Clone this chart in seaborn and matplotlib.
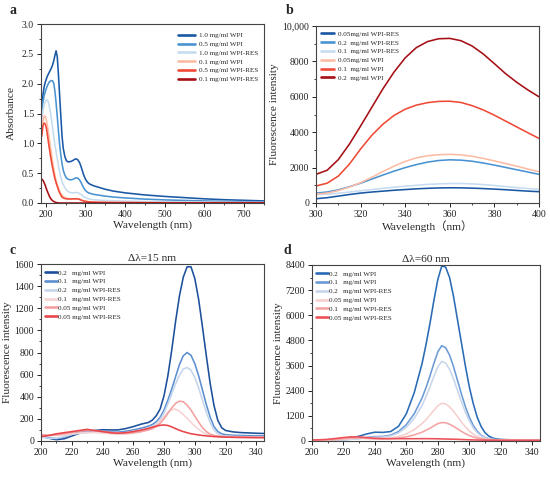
import numpy as np
import pandas as pd
import matplotlib
matplotlib.use("Agg")
import matplotlib.pyplot as plt
from matplotlib.ticker import MultipleLocator, FixedLocator, FixedFormatter, FormatStrFormatter
import seaborn as sns

# ---------------- Panel a : UV absorbance ----------------
wl_a = [190, 193, 196, 199, 202, 205, 208, 211, 214, 217, 220, 223, 226, 229, 232, 235,
        238, 241, 244, 248, 252, 256, 260, 265, 270, 275, 280, 285, 290, 295, 300, 305,
        310, 320, 335, 350, 370, 400, 450, 500, 550, 600, 650, 700, 750]
a_wpi_10 = [1.62, 1.82, 1.95, 2.03, 2.09, 2.14, 2.18, 2.22, 2.26, 2.31, 2.38, 2.47, 2.55, 2.45,
            2.15, 1.80, 1.45, 1.12, 0.92, 0.78, 0.71, 0.69, 0.69, 0.70, 0.72, 0.74, 0.73, 0.68,
            0.59, 0.48, 0.40, 0.35, 0.32, 0.29, 0.26, 0.23, 0.20, 0.17, 0.135, 0.11, 0.09,
            0.07, 0.055, 0.045, 0.035]
a_wpi_05 = [1.55, 1.70, 1.80, 1.87, 1.93, 1.98, 2.02, 2.04, 2.05, 2.05, 2.01, 1.88, 1.68, 1.45,
            1.20, 0.98, 0.80, 0.66, 0.55, 0.47, 0.42, 0.40, 0.39, 0.39, 0.40, 0.42, 0.42, 0.39,
            0.33, 0.26, 0.21, 0.18, 0.165, 0.145, 0.13, 0.115, 0.10, 0.085, 0.065, 0.052,
            0.043, 0.035, 0.028, 0.023, 0.02]
a_res_10 = [1.40, 1.55, 1.65, 1.70, 1.73, 1.72, 1.65, 1.55, 1.42, 1.27, 1.12, 0.98, 0.86, 0.74,
            0.62, 0.52, 0.43, 0.36, 0.31, 0.26, 0.22, 0.19, 0.18, 0.17, 0.17, 0.175, 0.175,
            0.16, 0.14, 0.11, 0.09, 0.075, 0.065, 0.055, 0.048, 0.042, 0.037, 0.032, 0.025,
            0.02, 0.017, 0.014, 0.012, 0.01, 0.008]
a_wpi_01 = [1.20, 1.38, 1.46, 1.45, 1.38, 1.26, 1.12, 0.98, 0.84, 0.70, 0.58, 0.47, 0.38, 0.31,
            0.25, 0.20, 0.16, 0.13, 0.11, 0.09, 0.08, 0.075, 0.07, 0.07, 0.07, 0.072, 0.072,
            0.065, 0.05, 0.04, 0.03, 0.025, 0.02, 0.016, 0.013, 0.011, 0.01, 0.008, 0.006,
            0.005, 0.005, 0.005, 0.005, 0.005, 0.005]
a_res_05 = [1.12, 1.30, 1.34, 1.32, 1.24, 1.10, 0.96, 0.83, 0.71, 0.60, 0.50, 0.41, 0.34, 0.28,
            0.22, 0.17, 0.13, 0.10, 0.085, 0.075, 0.07, 0.068, 0.068, 0.068, 0.07, 0.07, 0.07,
            0.06, 0.045, 0.035, 0.028, 0.022, 0.018, 0.014, 0.011, 0.01, 0.008, 0.007, 0.005,
            0.004, 0.004, 0.004, 0.004, 0.004, 0.004]
a_res_01 = [0.40, 0.38, 0.34, 0.29, 0.23, 0.18, 0.13, 0.09, 0.06, 0.04, 0.025, 0.015, 0.008,
            0.004, 0.002, 0.001, 0.0, 0.0, 0.0, 0.0, 0.0, 0.0, 0.0, 0.0, 0.0, 0.0, 0.0, 0.0,
            0.0, 0.0, 0.0, 0.0, 0.0, 0.0, 0.0, 0.0, 0.0, 0.0, 0.0, 0.0, 0.0, 0.0, 0.0, 0.0, 0.0]
labels_a = ["1.0 mg/ml WPI", "0.5 mg/ml WPI", "1.0 mg/ml WPI-RES",
            "0.1 mg/ml WPI", "0.5 mg/ml WPI-RES", "0.1 mg/ml WPI-RES"]
colors_a = ["#1a58a6", "#4a93d2", "#c6dcf0", "#fcbca4", "#ee4a36", "#a50f15"]

# ---------------- Panel b : intrinsic fluorescence ----------------
wl_b = [300, 305, 310, 315, 320, 325, 330, 335, 340, 345, 350, 355, 360, 365, 370, 375,
        380, 385, 390, 395, 400]
b_res_005 = [240, 300, 390, 480, 560, 620, 670, 720, 760, 800, 830, 850, 860, 855, 840, 815,
             785, 750, 710, 670, 640]
b_res_02 = [560, 620, 740, 920, 1120, 1350, 1580, 1800, 2000, 2170, 2310, 2400, 2440, 2420,
            2360, 2260, 2140, 2010, 1880, 1750, 1620]
b_res_01 = [480, 500, 550, 620, 690, 760, 830, 890, 950, 1000, 1050, 1080, 1100, 1100, 1080,
            1040, 990, 930, 870, 820, 770]
b_wpi_005 = [500, 560, 700, 900, 1150, 1450, 1780, 2080, 2350, 2550, 2670, 2730, 2750, 2720,
             2640, 2520, 2380, 2230, 2080, 1920, 1770]
b_wpi_01 = [960, 1120, 1520, 2200, 3050, 3820, 4450, 4950, 5300, 5530, 5670, 5740, 5750, 5680,
            5500, 5260, 4960, 4630, 4300, 3970, 3650]
b_wpi_02 = [1620, 1850, 2450, 3330, 4350, 5400, 6450, 7400, 8200, 8780, 9120, 9280, 9300, 9170,
            8870, 8420, 7870, 7310, 6820, 6390, 6000]
labels_b = ["0.05mg/ml WPI-RES", "0.2  mg/ml WPI-RES", "0.1  mg/ml WPI-RES",
            "0.05mg/ml WPI", "0.1  mg/ml WPI", "0.2  mg/ml WPI"]
colors_b = ["#1a58a6", "#4a93d2", "#c6dcf0", "#fcbca4", "#ee4a36", "#a50f15"]

# ---------------- Panels c, d : synchronous fluorescence ----------------
wl_cd = [200, 205, 210, 215, 220, 225, 230, 235, 240, 245, 250, 255, 260, 265, 270, 272.5,
         275, 277.5, 280, 282.5, 285, 287.5, 290, 292.5, 295, 297.5, 300, 302.5, 305, 307.5,
         310, 312.5, 315, 317.5, 320, 325, 330, 335, 340, 345]
c_wpi_02 = [45, 25, 12, 20, 45, 70, 85, 95, 102, 100, 100, 112, 130, 152, 168, 190, 230, 290,
            410, 590, 820, 1080, 1310, 1480, 1575, 1575, 1470, 1280, 1030, 770, 520, 320, 185,
            120, 95, 82, 76, 73, 70, 68]
c_wpi_01 = [45, 30, 20, 35, 65, 80, 88, 90, 88, 82, 80, 88, 100, 115, 135, 150, 175, 215, 280,
            370, 470, 580, 690, 770, 800, 775, 700, 590, 460, 330, 215, 130, 85, 65, 57, 52, 50,
            48, 47, 46]
c_res_02 = [35, 25, 25, 40, 60, 70, 75, 78, 75, 70, 68, 75, 88, 100, 118, 130, 155, 195, 255,
            335, 425, 515, 595, 650, 665, 640, 575, 480, 370, 260, 165, 100, 65, 50, 45, 42, 40,
            38, 37, 36]
c_res_01 = [55, 50, 50, 55, 65, 72, 78, 78, 72, 65, 60, 62, 70, 82, 105, 120, 145, 180, 220,
            260, 285, 288, 270, 240, 205, 170, 135, 105, 80, 62, 50, 43, 40, 38, 36, 34, 33, 32,
            31, 30]
c_wpi_005 = [60, 50, 55, 65, 78, 88, 95, 92, 85, 78, 72, 70, 75, 85, 100, 112, 130, 160, 200,
             250, 300, 340, 360, 355, 325, 280, 225, 170, 120, 85, 62, 50, 45, 42, 40, 38, 37,
             36, 35, 35]
c_res_005 = [40, 50, 65, 75, 85, 95, 105, 95, 85, 75, 70, 75, 85, 98, 115, 125, 135, 142, 145,
             140, 128, 112, 97, 85, 75, 66, 60, 55, 50, 46, 43, 40, 38, 36, 35, 33, 32, 31, 30,
             30]
labels_c = ["0.2   mg/ml WPI", "0.1   mg/ml WPI", "0.2   mg/ml WPI-RES",
            "0.1   mg/ml WPI-RES", "0.05 mg/ml WPI", "0.05 mg/ml WPI-RES"]
colors_c = ["#1c4f9c", "#5b8fd0", "#c5d5ec", "#f5d3d3", "#f3a0a0", "#e8444a"]

d_wpi_02 = [50, 50, 55, 70, 100, 150, 230, 340, 420, 410, 450, 700, 1300, 2300, 3700, 4600,
            5600, 6700, 7700, 8350, 8300, 7800, 6900, 5800, 4700, 3600, 2600, 1800, 1150, 700,
            400, 230, 140, 95, 75, 60, 55, 50, 50, 50]
d_wpi_01 = [40, 40, 40, 45, 60, 90, 120, 170, 210, 220, 280, 450, 780, 1300, 2050, 2550, 3100,
            3700, 4250, 4550, 4450, 4100, 3550, 2900, 2250, 1650, 1150, 750, 470, 280, 170, 110,
            80, 65, 55, 50, 45, 45, 45, 45]
d_res_02 = [40, 40, 40, 45, 55, 80, 110, 150, 180, 190, 240, 380, 650, 1080, 1700, 2120, 2580,
            3080, 3540, 3800, 3720, 3420, 2960, 2420, 1880, 1380, 960, 630, 400, 240, 150, 100,
            75, 60, 52, 48, 45, 44, 43, 43]
d_wpi_005 = [40, 40, 45, 55, 80, 110, 130, 130, 120, 115, 140, 210, 340, 540, 830, 1020, 1240,
             1460, 1680, 1800, 1770, 1630, 1420, 1170, 910, 680, 480, 330, 220, 150, 105, 80,
             65, 55, 50, 45, 42, 40, 40, 40]
d_res_01 = [40, 45, 55, 75, 110, 140, 140, 120, 100, 95, 110, 140, 200, 290, 420, 510, 610,
            720, 830, 880, 870, 800, 700, 580, 460, 350, 260, 190, 140, 105, 80, 65, 55, 50, 45,
            42, 40, 38, 37, 36]
d_res_005 = [50, 60, 80, 120, 165, 200, 195, 160, 130, 115, 110, 110, 110, 110, 112, 112, 110,
             108, 105, 100, 95, 90, 85, 80, 72, 65, 58, 52, 47, 43, 40, 38, 36, 35, 34, 33, 32,
             31, 30, 30]
labels_d = ["0.2   mg/ml WPI", "0.1   mg/ml WPI", "0.2   mg/ml WPI-RES",
            "0.05 mg/ml WPI", "0.1   mg/ml WPI-RES", "0.05 mg/ml WPI-RES"]
colors_d = ["#2a6bb5", "#6b9bd6", "#c8d6ec", "#f6cfcf", "#f4a3a3", "#ec5058"]

# ---------------- styling ----------------
sns.set_theme(style="ticks")
plt.rcParams["font.family"] = ["Liberation Serif", "Noto Sans CJK SC", "DejaVu Sans"]
SPINE = "#444444"
LABEL_FS = 8.2
TICK_FS = 7
LEG_FS = 5.1


def long_df(x, series, labels):
    frames = []
    for s, lab in zip(series, labels):
        frames.append(pd.DataFrame({"x": x, "y": s, "series": lab}))
    return pd.concat(frames, ignore_index=True)


def draw(ax, x, series, labels, colors, lw=1.15):
    df = long_df(x, series, labels)
    sns.lineplot(data=df, x="x", y="y", hue="series", hue_order=labels,
                 palette=dict(zip(labels, colors)), ax=ax, linewidth=lw,
                 sort=False, estimator=None, legend=True)


def style(ax):
    for sp in ax.spines.values():
        sp.set_color(SPINE)
        sp.set_linewidth(0.8)
    ax.tick_params(which="major", direction="out", length=3, width=0.7, colors="#222222",
                   labelsize=TICK_FS, pad=2)
    ax.tick_params(which="minor", direction="out", length=1.6, width=0.6, colors="#222222")


fig = plt.figure(figsize=(5.5, 4.78), dpi=100)
W, H = 550, 478


def axes_px(l, t, r, b):
    return fig.add_axes([l / W, 1 - b / H, (r - l) / W, (b - t) / H])


ax_a = axes_px(41, 24, 264, 203)
ax_b = axes_px(316, 26, 539, 203)
ax_c = axes_px(41, 264, 264, 441)
ax_d = axes_px(312, 265, 540, 441)

# a
draw(ax_a, wl_a, [a_wpi_10, a_wpi_05, a_res_10, a_wpi_01, a_res_05, a_res_01], labels_a, colors_a)
ax_a.set_xlim(188, 750)
ax_a.set_ylim(0, 3.0)
ax_a.xaxis.set_major_locator(MultipleLocator(100))
ax_a.xaxis.set_minor_locator(MultipleLocator(50))
ax_a.yaxis.set_major_locator(MultipleLocator(0.5))
ax_a.yaxis.set_minor_locator(MultipleLocator(0.25))
ax_a.yaxis.set_major_formatter(FormatStrFormatter("%.1f"))
ax_a.set_xlabel("Wavelength (nm)", fontsize=LABEL_FS, labelpad=1)
ax_a.set_ylabel("Absorbance", fontsize=LABEL_FS, labelpad=4)
ax_a.legend(loc="upper right", frameon=False, fontsize=LEG_FS, handlelength=2.4,
            handletextpad=0.6, labelspacing=0.4, borderaxespad=0.4,
            bbox_to_anchor=(1.0, 0.985))

# b
draw(ax_b, wl_b, [b_res_005, b_res_02, b_res_01, b_wpi_005, b_wpi_01, b_wpi_02], labels_b, colors_b)
ax_b.set_xlim(300, 400)
ax_b.set_ylim(0, 10000)
ax_b.xaxis.set_major_locator(MultipleLocator(20))
ax_b.xaxis.set_minor_locator(MultipleLocator(10))
ax_b.yaxis.set_major_locator(FixedLocator([0, 2000, 4000, 6000, 8000, 10000]))
ax_b.yaxis.set_major_formatter(FixedFormatter(["0", "2000", "4000", "6000", "8000", "10,000"]))
ax_b.yaxis.set_minor_locator(MultipleLocator(1000))
ax_b.set_xlabel("Wavelength（nm）", fontsize=LABEL_FS, labelpad=1,
                family=["Liberation Serif", "Noto Sans CJK SC"])
ax_b.set_ylabel("Fluorescence intensity", fontsize=LABEL_FS, labelpad=2)
ax_b.legend(loc="upper left", frameon=False, fontsize=LEG_FS, handlelength=1.8,
            handletextpad=0.6, labelspacing=0.4, borderaxespad=0.3)

# c
draw(ax_c, wl_cd, [c_wpi_02, c_wpi_01, c_res_02, c_res_01, c_wpi_005, c_res_005], labels_c, colors_c)
ax_c.set_xlim(200, 345)
ax_c.set_ylim(0, 1600)
ax_c.xaxis.set_major_locator(MultipleLocator(20))
ax_c.xaxis.set_minor_locator(MultipleLocator(10))
ax_c.yaxis.set_major_locator(MultipleLocator(200))
ax_c.yaxis.set_minor_locator(MultipleLocator(100))
ax_c.set_xlabel("Wavelength (nm)", fontsize=LABEL_FS, labelpad=1)
ax_c.set_ylabel("Fluorescence intensity", fontsize=LABEL_FS, labelpad=2)
ax_c.set_title("Δλ=15 nm", fontsize=8.2, pad=2)
ax_c.legend(loc="upper left", frameon=False, fontsize=LEG_FS, handlelength=1.7,
            handletextpad=0.1, labelspacing=0.4, borderaxespad=0.15,
            bbox_to_anchor=(0.0, 0.99))

# d
draw(ax_d, wl_cd, [d_wpi_02, d_wpi_01, d_res_02, d_wpi_005, d_res_01, d_res_005], labels_d, colors_d)
ax_d.set_xlim(200, 345)
ax_d.set_ylim(0, 8400)
ax_d.xaxis.set_major_locator(MultipleLocator(20))
ax_d.xaxis.set_minor_locator(MultipleLocator(10))
ax_d.yaxis.set_major_locator(MultipleLocator(1200))
ax_d.yaxis.set_minor_locator(MultipleLocator(600))
ax_d.set_xlabel("Wavelength (nm)", fontsize=LABEL_FS, labelpad=1)
ax_d.set_ylabel("Fluorescence intensity", fontsize=LABEL_FS, labelpad=2)
ax_d.set_title("Δλ=60 nm", fontsize=8.2, pad=2)
ax_d.legend(loc="upper left", frameon=False, fontsize=LEG_FS, handlelength=1.7,
            handletextpad=0.1, labelspacing=0.4, borderaxespad=0.15,
            bbox_to_anchor=(0.0, 0.99))

for ax in (ax_a, ax_b, ax_c, ax_d):
    style(ax)
    for line in ax.get_legend().get_lines():
        line.set_linewidth(1.9)

for lab, (px, py) in zip("abcd", [(13, 11), (290, 11), (13, 250), (287, 250)]):
    fig.text(px / W, 1 - py / H, lab, fontsize=10, fontweight="bold", ha="center", va="center")

fig.savefig("out.png", dpi=100, facecolor="white")
